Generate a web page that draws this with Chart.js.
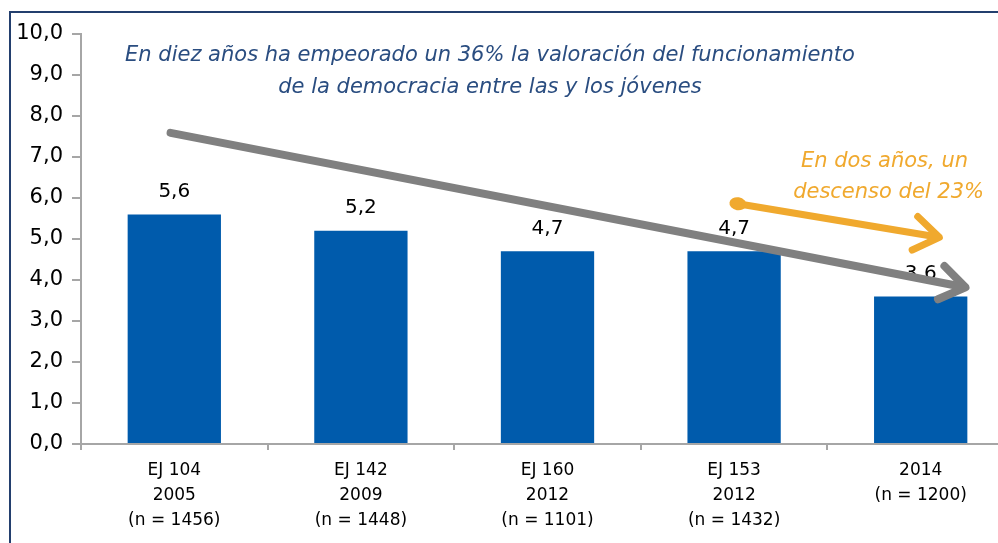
<!DOCTYPE html>
<html>
<head>
<meta charset="utf-8">
<script src="https://cdn.jsdelivr.net/npm/chart.js@4.4.1/dist/chart.umd.min.js"></script>
<style>
  html, body { margin: 0; padding: 0; background: #fff; overflow: hidden; }
  #frame { position: absolute; left: 9px; top: 11px; width: 1100px; height: 600px;
           border-left: 2px solid #233f6e; border-top: 2px solid #233f6e; }
  #wrap { position: absolute; left: 0; top: 0; width: 1016px; height: 543px; }
</style>
</head>
<body>
<div id="frame"></div>
<div id="wrap"><canvas id="chart"></canvas></div>
<script>
const categories = [
  ["EJ 104", "2005", "(n = 1456)"],
  ["EJ 142", "2009", "(n = 1448)"],
  ["EJ 160", "2012", "(n = 1101)"],
  ["EJ 153", "2012", "(n = 1432)"],
  ["2014", "(n = 1200)"]
];
const values = [5.6, 5.2, 4.7, 4.7, 3.6];
const valueLabels = ["5,6", "5,2", "4,7", "4,7", "3,6"];
const titleLines = [
  "En diez años ha empeorado un 36% la valoración del funcionamiento",
  "de la democracia entre las y los jóvenes"
];
const noteLines = ["En dos años, un", "descenso del 23%"];

const FONT = "'DejaVu Sans', Tahoma, sans-serif";
const blue = "#005bac";
const gray = "#808080";
const orange = "#f0a92e";

function drawArrow(ctx, x1, y1, x2, y2, color, width, head, dot) {
  const a = Math.atan2(y2 - y1, x2 - x1);
  ctx.save();
  ctx.strokeStyle = color;
  ctx.fillStyle = color;
  ctx.lineWidth = width;
  ctx.lineCap = "round";
  ctx.lineJoin = "round";
  ctx.beginPath();
  ctx.moveTo(x1, y1);
  ctx.lineTo(x2 - Math.cos(a) * 2, y2 - Math.sin(a) * 2);
  ctx.stroke();
  // open chevron head
  ctx.beginPath();
  ctx.moveTo(x2 - head * Math.cos(a - 0.6), y2 - head * Math.sin(a - 0.6));
  ctx.lineTo(x2, y2);
  ctx.lineTo(x2 - head * Math.cos(a + 0.6), y2 - head * Math.sin(a + 0.6));
  ctx.stroke();
  if (dot) {
    ctx.beginPath();
    ctx.ellipse(x1, y1, dot * 1.3, dot, a, 0, Math.PI * 2);
    ctx.fill();
  }
  ctx.restore();
}

const overlay = {
  id: "overlay",
  afterDatasetsDraw(chart) {
    const ctx = chart.ctx;
    const meta = chart.getDatasetMeta(0);
    const x = chart.scales.x, y = chart.scales.y;

    // value labels
    ctx.save();
    ctx.font = "20px " + FONT;
    ctx.fillStyle = "#000";
    ctx.textAlign = "center";
    ctx.textBaseline = "bottom";
    meta.data.forEach((bar, i) => {
      ctx.fillText(valueLabels[i], bar.x, bar.y - 13);
    });
    ctx.restore();

    // headline
    ctx.save();
    ctx.font = "italic 21px " + FONT;
    ctx.fillStyle = "#2a4d80";
    ctx.textAlign = "center";
    ctx.textBaseline = "middle";
    ctx.fillText(titleLines[0], 490, 56);
    ctx.fillText(titleLines[1], 490, 88);
    ctx.restore();

    // trend arrows, placed in data space
    const px = v => x.getPixelForValue(0) + v * (x.getPixelForValue(1) - x.getPixelForValue(0));
    drawArrow(ctx, px(-0.02), y.getPixelForValue(7.59), px(4.24), y.getPixelForValue(3.82), gray, 8, 30, 0);
    drawArrow(ctx, px(3.02), y.getPixelForValue(5.86), px(4.1), y.getPixelForValue(5.04), orange, 7, 30, 6.5);

    // orange note
    ctx.save();
    ctx.font = "italic 21px " + FONT;
    ctx.fillStyle = orange;
    ctx.textAlign = "right";
    ctx.textBaseline = "middle";
    ctx.fillText(noteLines[0], 968, 162);
    ctx.fillText(noteLines[1], 984, 193);
    ctx.restore();
  }
};

new Chart(document.getElementById("chart"), {
  type: "bar",
  data: {
    labels: categories,
    datasets: [{
      data: values,
      backgroundColor: blue,
      borderWidth: 0,
      barPercentage: 0.5,
      categoryPercentage: 1.0
    }]
  },
  options: {
    responsive: true,
    maintainAspectRatio: false,
    animation: false,
    layout: { padding: { top: 34, right: 2, left: 0, bottom: 0 } },
    plugins: {
      legend: { display: false },
      tooltip: { enabled: false }
    },
    scales: {
      x: {
        grid: { drawOnChartArea: false, drawTicks: true, tickLength: 6, color: "#a6a6a6", lineWidth: 2 },
        border: { color: "#a6a6a6", width: 2 },
        ticks: { color: "#000", font: { family: FONT, size: 17, lineHeight: 1.47 }, padding: 8, maxRotation: 0 },
        afterFit(scale) { scale.height = 99; }
      },
      y: {
        min: 0,
        max: 10,
        grid: { drawOnChartArea: false, drawTicks: true, tickLength: 9, color: "#a6a6a6", lineWidth: 2 },
        border: { color: "#a6a6a6", width: 2 },
        ticks: {
          stepSize: 1,
          color: "#000",
          font: { family: FONT, size: 21 },
          padding: 9,
          callback: v => v.toFixed(1).replace(".", ",")
        },
        afterFit(scale) { scale.width = 81; }
      }
    }
  },
  plugins: [overlay]
});
</script>
</body>
</html>
